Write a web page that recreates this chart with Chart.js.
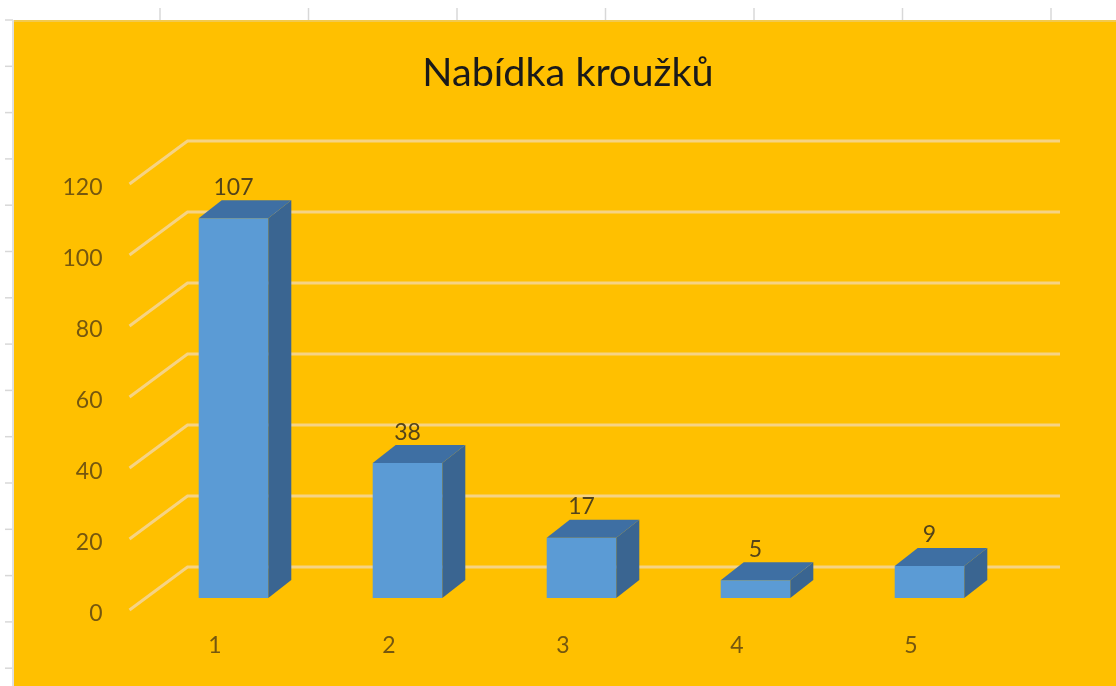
<!DOCTYPE html>
<html>
<head>
<meta charset="utf-8">
<title>Nabídka kroužků</title>
<script src="https://cdn.jsdelivr.net/npm/chart.js@4"></script>
<style>
  html, body { margin: 0; padding: 0; background: #fff; }
  canvas { display: block; }
</style>
</head>
<body>
<canvas id="kruzkyChart" width="1116" height="686"></canvas>
<script>
const chartTitle = 'Nabídka kroužků';
const categories = ['1', '2', '3', '4', '5'];
const values = [107, 38, 17, 5, 9];
const yMin = 0;
const yMax = 120;
const yStep = 20;

/* the fake 3D look of the original */
const barDepthX = 23;
const barDepthY = 18;
const wallDepthX = 58;
const wallOffsetY = 31;
const floorFrontY = 12;

const sheetAndWallPlugin = {
  id: 'sheetAndWall',
  beforeDraw(chart) {
    const ctx = chart.ctx;
    ctx.save();
    ctx.fillStyle = '#fff';
    ctx.fillRect(0, 0, chart.width, chart.height);

    // spreadsheet grid stubs around the chart
    ctx.strokeStyle = '#d8d8d8';
    ctx.lineWidth = 1.5;
    for (let i = 0; i < 7; i++) {
      const x = 160 + i * 148.5;
      ctx.beginPath(); ctx.moveTo(x, 8); ctx.lineTo(x, 20); ctx.stroke();
    }
    for (let i = 0; i < 15; i++) {
      const y = 20 + i * 46.3;
      ctx.beginPath(); ctx.moveTo(5, y); ctx.lineTo(13, y); ctx.stroke();
    }
    ctx.fillStyle = '#e0e0e0';
    ctx.fillRect(12, 20, 2, chart.height - 20);

    ctx.fillStyle = '#FFC000';
    ctx.fillRect(14, 20, chart.width - 14, chart.height - 20);
    ctx.fillStyle = '#F2C94E';
    ctx.fillRect(14, 20, chart.width - 14, 2);
    ctx.restore();
  },
  beforeDatasetsDraw(chart) {
    const ctx = chart.ctx;
    const yScale = chart.scales.y;
    const left = chart.chartArea.left;
    ctx.save();
    ctx.strokeStyle = '#F6D384';
    ctx.lineWidth = 3;
    yScale.ticks.forEach(t => {
      const y = yScale.getPixelForValue(t.value);
      ctx.beginPath();
      ctx.moveTo(left - 17, y + floorFrontY);
      ctx.lineTo(left - 17 + wallDepthX, y - wallOffsetY);
      ctx.lineTo(1060, y - wallOffsetY);
      ctx.stroke();
    });
    ctx.restore();
  }
};

const bar3dPlugin = {
  id: 'bar3d',
  afterDatasetsDraw(chart) {
    const ctx = chart.ctx;
    const meta = chart.getDatasetMeta(0);
    ctx.save();
    meta.data.forEach((bar, i) => {
      const l = bar.x - bar.width / 2;
      const r = bar.x + bar.width / 2;

      ctx.fillStyle = '#3A6591';
      ctx.beginPath();
      ctx.moveTo(r, bar.base);
      ctx.lineTo(r + barDepthX, bar.base - barDepthY);
      ctx.lineTo(r + barDepthX, bar.y - barDepthY);
      ctx.lineTo(r, bar.y);
      ctx.closePath();
      ctx.fill();

      ctx.fillStyle = '#3E6FA3';
      ctx.beginPath();
      ctx.moveTo(l, bar.y);
      ctx.lineTo(l + barDepthX, bar.y - barDepthY);
      ctx.lineTo(r + barDepthX, bar.y - barDepthY);
      ctx.lineTo(r, bar.y);
      ctx.closePath();
      ctx.fill();

      ctx.fillStyle = '#54441A';
      ctx.font = '23px Lato';
      ctx.textAlign = 'center';
      ctx.textBaseline = 'middle';
      ctx.fillText(String(values[i]), bar.x, bar.y - 31);
    });
    ctx.restore();
  }
};

new Chart(document.getElementById('kruzkyChart'), {
  type: 'bar',
  data: {
    labels: categories,
    datasets: [{
      data: values,
      backgroundColor: '#5B9BD5',
      categoryPercentage: 1,
      barPercentage: 0.4
    }]
  },
  plugins: [sheetAndWallPlugin, bar3dPlugin],
  options: {
    responsive: false,
    animation: false,
    layout: { padding: { left: 20, right: 0, top: 0, bottom: 0 } },
    plugins: {
      legend: { display: false },
      tooltip: { enabled: false },
      title: {
        display: true,
        text: chartTitle,
        color: '#1a1a1a',
        font: { family: 'Lato', size: 39.6, weight: 'normal', lineHeight: 1.2 },
        padding: { top: 49, bottom: 75.5 }
      }
    },
    scales: {
      x: {
        grid: { display: false, drawTicks: false },
        border: { display: false },
        ticks: {
          color: '#75570F',
          font: { family: 'Lato', size: 23 },
          padding: 34,
          labelOffset: -18.5,
          maxRotation: 0
        },
        afterFit(scale) { scale.height = 88; }
      },
      y: {
        min: yMin,
        max: yMax,
        grid: { display: false, drawTicks: false },
        border: { display: false },
        ticks: {
          stepSize: yStep,
          color: '#75570F',
          font: { family: 'Lato', size: 23 },
          padding: 44,
          labelOffset: 16
        },
        afterFit(scale) { scale.width = 126.5; }
      },
      // empty axis, only keeps the plot clear of the right edge
      rightGap: {
        position: 'right',
        grid: { display: false, drawTicks: false },
        border: { display: false },
        ticks: { display: false },
        afterFit(scale) { scale.width = 99.5; }
      }
    }
  }
});
</script>
</body>
</html>
